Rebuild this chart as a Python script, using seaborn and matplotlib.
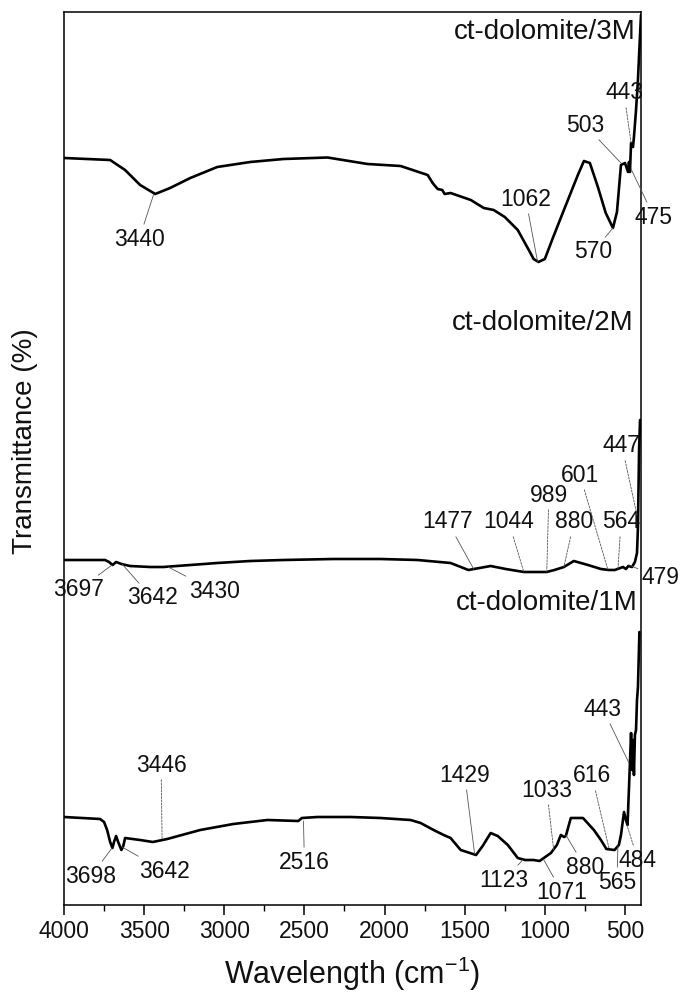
import numpy as np
import pandas as pd
import matplotlib
matplotlib.use("Agg")
import matplotlib.pyplot as plt
from matplotlib.ticker import MultipleLocator
import seaborn as sns

# FTIR spectra (stacked, arbitrary transmittance units)
wn_3m = [4000, 3712, 3619, 3525, 3431, 3338, 3212, 3044, 2838, 2631, 2356, 2106, 1900,
         1731, 1700, 1669, 1640, 1625, 1588, 1462, 1381, 1319, 1250, 1169, 1100, 1070,
         1040, 1000, 950, 881, 794, 756, 719, 669, 620, 575, 550, 525, 500, 481, 475,
         469, 462, 450, 444, 431, 419, 412, 400]
t_3m = [74.7, 74.5, 73.5, 72.0, 71.1, 71.7, 72.7, 73.8, 74.3, 74.6, 74.75, 74.1, 73.9,
        73.0, 72.2, 71.6, 71.5, 71.1, 71.2, 70.5, 69.7, 69.5, 68.8, 67.5, 65.5, 64.6,
        64.3, 64.6, 66.7, 69.5, 73.0, 74.4, 74.2, 71.8, 69.2, 67.7, 69.3, 74.0, 74.2,
        73.3, 74.3, 73.3, 76.2, 75.8, 76.8, 79.5, 82.5, 85.0, 89.0]

wn_2m = [4000, 3744, 3719, 3697, 3675, 3642, 3588, 3462, 3381, 3212, 3044, 2838, 2631,
         2319, 2025, 1794, 1588, 1477, 1338, 1244, 1131, 1044, 989, 940, 881, 819, 731,
         650, 601, 564, 512, 494, 479, 456, 438, 425, 419, 412, 406]
t_2m = [34.5, 34.5, 34.3, 34.0, 34.3, 34.1, 33.9, 33.8, 33.8, 34.0, 34.2, 34.4, 34.5,
        34.6, 34.6, 34.5, 34.2, 33.5, 33.9, 33.6, 33.3, 33.3, 33.3, 33.5, 33.8, 34.4,
        34.0, 33.6, 33.5, 33.5, 33.8, 33.6, 33.9, 33.8, 34.3, 35.2, 37.8, 45.5, 48.5]

wn_1m = [4000, 3775, 3750, 3731, 3712, 3698, 3688, 3675, 3662, 3642, 3630, 3619, 3525,
         3446, 3356, 3150, 2944, 2731, 2538, 2516, 2419, 2212, 2025, 1838, 1775, 1694,
         1631, 1588, 1525, 1429, 1388, 1338, 1294, 1231, 1169, 1123, 1071, 1033, 962,
         925, 900, 880, 869, 838, 762, 694, 650, 616, 565, 538, 525, 506, 494, 484, 469,
         462, 456, 450, 444, 438, 431, 425, 419, 410]
t_1m = [8.8, 8.6, 8.3, 7.5, 6.3, 5.7, 6.3, 6.9, 6.3, 5.5, 5.9, 6.7, 6.5,
        6.3, 6.6, 7.5, 8.1, 8.5, 8.4, 8.7, 8.8, 8.8, 8.7, 8.5, 8.2, 7.5,
        7.0, 6.7, 5.5, 5.0, 5.9, 7.2, 6.9, 6.0, 4.7, 4.5, 4.5, 4.4, 5.2,
        6.0, 7.0, 6.8, 6.9, 8.7, 8.7, 7.5, 6.5, 5.6, 5.5, 6.0, 7.0, 9.3, 8.5, 8.0, 14.2,
        17.2, 13.5, 16.5, 13.0, 17.0, 17.5, 20.5, 21.8, 27.3]

sample_names = ["ct-dolomite/3M", "ct-dolomite/2M", "ct-dolomite/1M"]

# peak labels and the curve point each one marks
peak_labels = {
    "3M": ["3440", "1062", "570", "503", "443", "475"],
    "2M": ["3697", "3642", "3430", "1477", "1044", "989", "880", "601", "564", "447", "479"],
    "1M": ["3446", "3698", "3642", "2516", "1429", "1123", "1071", "1033", "616", "880",
           "565", "484", "443"],
}
peak_points = {
    "3M": [(3440, 71.1), (1045, 64.3), (575, 67.7), (525, 74.2), (462, 76.2), (462, 73.6)],
    "2M": [(3700, 34.0), (3638, 34.1), (3350, 33.8), (1444, 33.6), (1131, 33.3), (988, 33.3),
           (881, 33.8), (606, 33.5), (544, 33.5), (425, 39.0), (475, 34.0)],
    "1M": [(3388, 6.6), (3700, 5.7), (3638, 5.8), (2506, 8.4), (1438, 5.1), (1138, 4.5),
           (1006, 4.5), (944, 5.4), (600, 5.7), (869, 7.0), (544, 5.9), (488, 8.0), (475, 14.2)],
}

# label positions (text centres) and leader style
label_pos = {
    "3M": [(3531, 66.6), (1119, 70.6), (700, 65.3), (750, 78.0), (506, 81.2), (319, 68.8)],
    "2M": [(3912, 31.5), (3450, 30.7), (3062, 31.4), (1606, 38.3), (1225, 38.3), (975, 41.0),
           (819, 38.3), (781, 43.0), (525, 38.3), (519, 45.9), (281, 32.7)],
    "1M": [(3394, 14.0), (3831, 2.9), (3375, 3.4), (2500, 4.3), (1500, 13.0), (1256, 2.5),
           (894, 1.3), (988, 11.5), (706, 12.9), (750, 3.8), (550, 2.3), (419, 4.5), (638, 19.6)],
}
dashed = {
    "3M": ["443"],
    "2M": ["1044", "989", "880", "601", "564", "447"],
    "1M": ["3446", "1033", "616", "484"],
}
name_pos = [(431, 87.3), (444, 58.2), (419, 30.2)]

sns.set_theme(style="ticks")
plt.rcParams['font.family'] = ['Liberation Sans', 'DejaVu Sans']
plt.rcParams['mathtext.fontset'] = 'custom'
plt.rcParams['mathtext.rm'] = 'Liberation Sans'
plt.rcParams['mathtext.default'] = 'regular'
plt.rcParams['text.color'] = 'black'
plt.rcParams['axes.labelcolor'] = 'black'

fig = plt.figure(figsize=(6.83, 9.96), dpi=100)
ax = fig.add_axes([64 / 683, 91 / 996, 577 / 683, 893 / 996])

for wn, t in [(wn_3m, t_3m), (wn_2m, t_2m), (wn_1m, t_1m)]:
    df = pd.DataFrame({"wn": wn, "T": t})
    sns.lineplot(data=df, x="wn", y="T", color="black", lw=1.9, sort=False,
                 estimator=None, ax=ax)

for key in ["3M", "2M", "1M"]:
    for lab, (px, py), (tx, ty) in zip(peak_labels[key], peak_points[key], label_pos[key]):
        ls = (0, (2.5, 1.5)) if lab in dashed[key] else "-"
        ax.annotate(lab, xy=(px, py), xytext=(tx, ty), ha="center", va="center",
                    fontsize=16.5, color="#111111", annotation_clip=False,
                    arrowprops=dict(arrowstyle="-", color="#555555", lw=0.6,
                                    linestyle=ls, shrinkA=0, shrinkB=0))

for name, (x, y) in zip(sample_names, name_pos):
    ax.text(x, y, name, ha="right", va="center", fontsize=20, color="#111111")

ax.set_xlim(4000, 400)
ax.set_ylim(0, 89.3)
ax.xaxis.set_major_locator(MultipleLocator(500))
ax.xaxis.set_minor_locator(MultipleLocator(250))
ax.tick_params(axis="x", which="major", direction="out", length=7, width=1.1,
               labelsize=16.5, pad=4, colors="black", labelcolor="#111111")
ax.tick_params(axis="x", which="minor", direction="out", length=4, width=1.0,
               colors="black")
ax.set_yticks([])
for sp in ax.spines.values():
    sp.set_visible(True)
    sp.set_color("black")
    sp.set_linewidth(1.1)

ax.set_xlabel("Wavelength (cm$^{-1}$)", fontsize=22, color="#111111")
ax.set_ylabel("Transmittance (%)", fontsize=20, color="#111111")
ax.xaxis.set_label_coords(0.5, -0.056)
ax.yaxis.set_label_coords(-0.045, 0.52)

fig.savefig("out.png", dpi=100)
